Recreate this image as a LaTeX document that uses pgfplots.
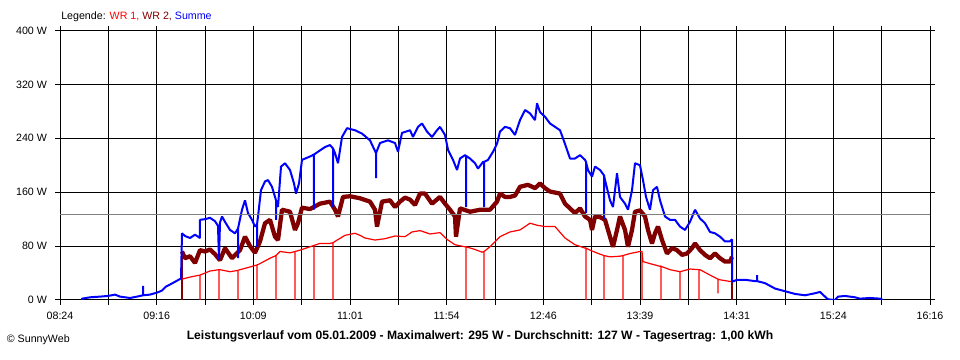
\documentclass[border=0pt]{standalone}
\usepackage{fontspec}
\setmainfont{Liberation Sans}
\usepackage{pgfplots}
\pgfplotsset{compat=1.18}
\definecolor{wrred}{RGB}{255,0,0}
\definecolor{wrdark}{RGB}{128,0,0}
\definecolor{wrblue}{RGB}{0,0,255}
\definecolor{avggray}{RGB}{128,128,128}
\begin{document}
\begin{tikzpicture}
\useasboundingbox (0,0) rectangle (720pt,270pt);
\begin{axis}[
  at={(45pt,45pt)}, anchor=south west,
  scale only axis, width=652.5pt, height=202.1pt,
  xmin=504, xmax=976, ymin=0, ymax=400,
  axis line style={black, line width=0.75pt},
  grid=major, major grid style={black, line width=0.75pt},
  tick style={black, line width=0.75pt},
  tick align=outside, major tick length=3.75pt,
  xtick={504,530.222,556.444,582.667,608.889,635.111,661.333,687.556,713.778,740,766.222,792.444,818.667,844.889,871.111,897.333,923.556,949.778,976},
  xticklabels={08:24,,09:16,,10:09,,11:01,,11:54,,12:46,,13:39,,14:31,,15:24,,16:16},
  ytick={0,80,160,240,320,400},
  yticklabels={0 W,80 W,160 W,240 W,320 W,400 W},
  ticklabel style={font=\fontsize{8}{9}\selectfont},
  xticklabel style={yshift=-2pt},
  yticklabel style={xshift=-2.5pt},
  /pgf/number format/assume math mode=true,
]
% WR 2 (dark red)
\addplot[wrdark, line width=3.2pt, line join=bevel] coordinates {
(570.19,72)(571.82,62)(574.53,65)(577.24,55)(579.95,74)(582.67,72)(585.38,75)(588.09,68)(590.80,59)(593.52,77)(597.32,62)(601.66,74)(604.37,94)(607.08,80)(609.79,70)(612.51,87)(615.22,114)(617.93,119)(620.64,94)(622.27,89)(624.44,134)(628.78,131)(631.49,104)(633.12,114)(635.29,137)(639.63,135)(645.06,143)(650.48,146)(653.20,134)(654.82,124)(657.54,153)(661.33,154)(666.76,151)(672.18,146)(674.90,134)(675.98,109)(678.70,146)(683.03,148)(685.75,138)(688.46,146)(691.17,152)(693.89,149)(696.60,141)(699.31,158)(702.02,158)(705.82,143)(710.16,153)(712.87,143)(715.59,134)(718.30,124)(718.84,94)(721.01,136)(726.44,131)(731.86,134)(737.29,134)(741.09,146)(742.71,158)(745.43,153)(748.14,153)(750.85,155)(753.56,168)(757.90,171)(761.70,166)(764.41,173)(767.13,166)(769.84,161)(775.27,158)(777.98,143)(780.69,136)(783.40,129)(786.12,136)(788.83,124)(791.54,119)(792.63,104)(794.25,124)(796.97,123)(799.68,119)(802.39,94)(804.02,79)(806.19,104)(807.81,124)(810.53,104)(812.15,79)(814.33,104)(815.95,131)(818.67,133)(821.38,124)(823.00,104)(825.18,84)(826.80,99)(828.43,109)(830.61,89)(833.32,69)(836.03,77)(838.74,74)(841.46,67)(844.17,69)(846.88,77)(848.51,84)(851.22,74)(853.93,67)(856.64,62)(859.36,69)(862.07,62)(864.78,57)(867.49,57)(868.58,64)
};
\addplot[wrdark, line width=0.9pt] coordinates {(570.19,0)(570.19,72)};
\addplot[wrdark, line width=0.9pt] coordinates {(868.58,64)(868.58,0)};
% WR 1 (red)
\addplot[wrred, line width=0.9pt] coordinates {
(570.19,31)(574.53,34)(579.95,37)(579.95,0)(579.95,37)(585.38,43)(590.26,45)(590.26,0)(590.26,45)(590.80,45)(596.23,42)(600.57,44)(600.57,0)(600.57,44)(601.66,45)(607.08,49)(610.88,52)(610.88,0)(610.88,52)(612.51,54)(617.93,62)(621.19,66)(621.19,0)(621.19,66)(623.36,72)(628.78,70)(631.49,72)(631.49,0)(631.49,72)(634.21,74)(639.63,79)(641.80,81)(641.80,0)(641.80,81)(645.06,84)(650.48,84)(652.11,85)(652.11,0)(652.11,85)(653.20,87)(658.62,96)(664.05,99)(666.76,96)(669.47,92)(674.90,89)(680.32,91)(685.75,95)(691.17,94)(694.97,101)(699.31,103)(704.74,98)(710.16,100)(713.96,90)(718.30,82)(723.72,79)(724.27,79)(724.27,0)(724.27,79)(729.15,75)(732.95,71)(734.04,72)(734.04,0)(734.04,72)(737.29,79)(742.71,94)(748.14,101)(753.56,104)(758.99,114)(762.79,111)(767.13,109)(772.55,109)(777.98,92)(783.40,82)(788.83,77)(789.37,77)(789.37,0)(789.37,77)(791.54,74)(796.97,68)(799.14,66)(799.14,0)(799.14,66)(802.39,64)(807.81,65)(809.44,66)(809.44,0)(809.44,66)(813.24,69)(818.67,72)(819.75,72)(819.75,0)(819.75,72)(820.29,57)(824.09,54)(829.52,50)(830.06,50)(830.06,0)(830.06,50)(834.94,45)(840.37,42)(840.37,0)(840.37,42)(845.79,46)(850.68,45)(850.68,0)(850.68,45)(851.22,45)(856.64,37)(860.98,31)(860.98,10)(860.98,31)(862.07,30)(868.58,27)
};
% Summe (blue)
\addplot[wrblue, line width=1.5pt, line join=bevel] coordinates {
(515.94,0)(515.94,2)(520.28,4)(525.70,5)(530.04,6)(533.84,8)(536.55,5)(541.98,3)(545.78,5)(549.03,7)(549.03,21)(549.03,7)(552.83,8)(556.63,11)(559.34,14)(561.51,20)(563.68,23)(566.39,27)(569.65,32)(570.19,99)(571.82,95)(574.53,92)(577.24,97)(579.95,92)(579.95,119)(582.67,120)(585.38,122)(588.09,117)(589.72,110)(590.26,60)(590.80,115)(591.89,124)(593.52,116)(596.23,104)(598.94,99)(600.57,106)(600.57,62)(600.57,106)(602.74,134)(604.37,148)(606.00,129)(608.17,119)(609.79,109)(610.88,112)(610.88,79)(610.88,112)(611.42,124)(613.05,163)(615.22,176)(616.85,178)(619.02,168)(621.19,148)(621.19,119)(621.19,148)(622.27,138)(623.90,198)(626.07,203)(628.78,193)(630.95,173)(632.04,158)(633.67,173)(635.29,208)(639.63,213)(641.80,216)(641.80,134)(641.80,216)(643.97,220)(647.77,227)(650.48,230)(652.11,225)(652.11,138)(652.11,225)(653.20,218)(654.82,203)(657.00,242)(659.71,255)(664.05,252)(667.84,247)(672.18,237)(675.44,218)(675.44,181)(675.44,218)(677.61,233)(681.95,237)(685.75,233)(687.38,220)(689.55,248)(693.89,252)(695.51,242)(698.23,257)(700.40,262)(703.11,250)(705.82,242)(708.53,252)(710.16,257)(712.87,245)(714.50,223)(717.22,208)(719.39,193)(721.01,210)(723.72,215)(724.27,214)(724.27,138)(724.27,214)(726.44,210)(729.15,203)(730.78,195)(733.50,205)(734.04,205)(734.04,138)(734.04,205)(736.21,208)(738.92,220)(741.09,232)(742.71,250)(745.43,257)(748.14,255)(750.85,245)(753.56,267)(756.28,282)(758.99,277)(761.70,267)(762.79,292)(764.41,279)(767.13,272)(769.84,262)(772.55,257)(775.27,252)(776.89,240)(779.07,223)(780.69,210)(783.40,210)(786.12,215)(788.83,208)(789.37,205)(789.37,129)(789.37,205)(790.46,193)(792.63,183)(794.25,198)(796.97,193)(799.14,185)(799.14,120)(799.14,185)(799.68,178)(802.39,148)(804.02,138)(806.19,188)(807.81,153)(810.53,143)(812.15,134)(814.33,163)(815.95,203)(818.67,200)(820.29,178)(821.92,153)(824.09,134)(825.72,163)(827.89,168)(829.52,148)(832.23,124)(834.94,119)(837.66,119)(840.37,109)(843.08,104)(845.79,116)(848.51,134)(851.22,121)(853.93,114)(856.64,101)(859.36,99)(862.07,94)(864.78,87)(867.49,87)(868.58,90)(868.58,27)(871.29,30)(875.63,30)(881.06,28)(882.15,28)(882.15,37)(882.15,28)(886.49,25)(891.91,17)(897.33,13)(902.76,9)(908.18,7)(913.61,10)(916.32,12)(919.04,5)(920.66,1)(924.46,0)(926.09,5)(929.89,6)(935.31,4)(938.02,2)(943.45,3)(948.87,2)(950.50,0)
};
% average line
\addplot[avggray, line width=0.75pt] coordinates {(504,127)(976,127)};
\end{axis}
\node[anchor=west, inner sep=0pt, font=\fontsize{8}{9}\selectfont] at (45.75pt,257.25pt)
  {Legende: \textcolor{wrred}{WR 1,} \textcolor{wrdark}{WR 2,} \textcolor{wrblue}{Summe}};
\node[inner sep=0pt, font=\fontsize{9.1}{10}\selectfont\bfseries] at (360pt,17.5pt)
  {Leistungsverlauf vom 05.01.2009 - Maximalwert: 295 W - Durchschnitt: 127 W - Tagesertrag: 1,00 kWh};
\node[anchor=west, inner sep=0pt, font=\fontsize{8}{9}\selectfont] at (5pt,15pt) {© SunnyWeb};
\end{tikzpicture}
\end{document}
